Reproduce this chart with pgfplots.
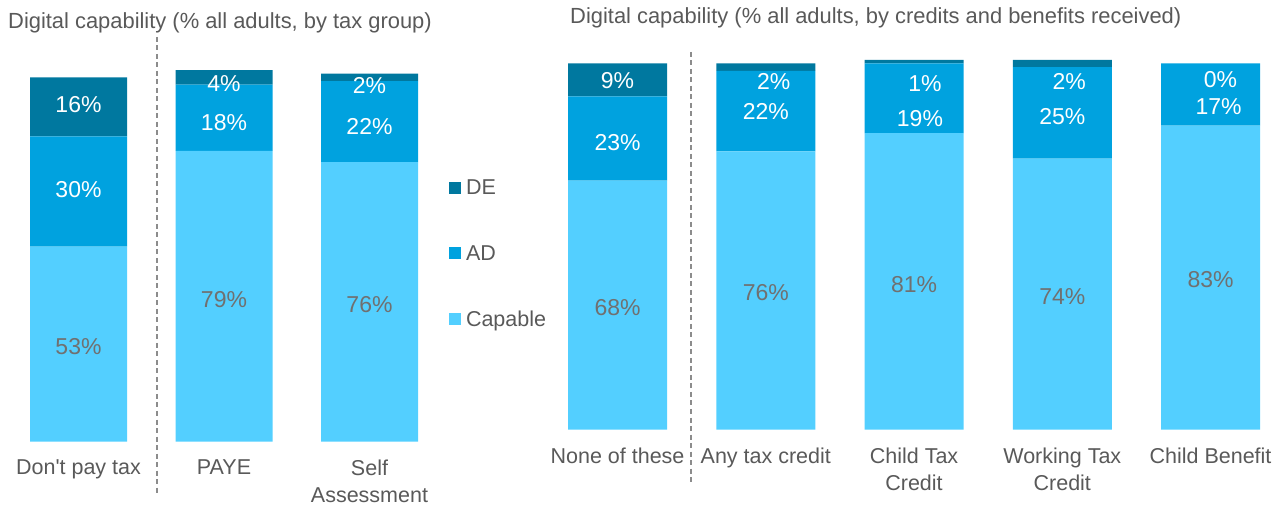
\documentclass[border=0pt]{standalone}
\usepackage{fontspec}
\setmainfont{Liberation Sans}
\usepackage{pgfplots}
\pgfplotsset{compat=1.18}

\definecolor{capable}{HTML}{53CFFF}
\definecolor{ad}{HTML}{00A2DF}
\definecolor{de}{HTML}{00789F}
\definecolor{txt}{HTML}{595959}
\definecolor{lbl}{HTML}{707070}

\newcommand\bigfont{\fontsize{21.5}{27.5}\selectfont}
\newcommand\ttlfont{\fontsize{21.9}{26}\selectfont}
\newcommand\pctfont{\fontsize{23}{27}\selectfont}

% positions in pt = pixels of the reference
\pgfplotsset{
  frame/.style={scale only axis, clip=false, anchor=south west,
    ymin=0, ymax=100, enlarge x limits=false},
  panel/.style={frame, ybar stacked,
    axis line style={draw=none}, tick style={draw=none},
    ytick=\empty, axis x line*=bottom,
    xticklabel style={font=\bigfont, text=txt, align=center,
      anchor=north, inner sep=0pt, yshift=-18pt},
  },
  labels/.style={frame, hide axis},
  cap/.style={fill=capable, draw=none},
  adst/.style={fill=ad, draw=none},
  dest/.style={fill=de, draw=none},
  pct/.style={only marks, mark=none, point meta=explicit symbolic,
    nodes near coords, nodes near coords style={anchor=center,
      font=\pctfont, text=#1, inner sep=0pt}},
}

\begin{document}
\begin{tikzpicture}
\useasboundingbox (0,0) rectangle (1284pt,506pt);

% titles
\node[anchor=base west, font=\ttlfont, text=txt, inner sep=0pt] at (8pt,477pt)
  {Digital capability (\% all adults, by tax group)};
\node[anchor=base west, font=\ttlfont, text=txt, inner sep=0pt] at (570pt,482.5pt)
  {Digital capability (\% all adults, by credits and benefits received)};

% separators
\draw[dash pattern=on 5pt off 3.5pt, line width=1.3pt, color=black!45] (157pt,469pt) -- (157pt,12pt);
\draw[dash pattern=on 5pt off 3.5pt, line width=1.3pt, color=black!45] (691pt,454pt) -- (691pt,23pt);

% left panel: by tax group
\begin{axis}[panel,
  at={(5.75pt,64.3pt)}, width=436.5pt, height=368pt,
  xmin=-0.5, xmax=2.5, bar width=97pt,
  xtick={0,1,2},
  xticklabels={Don\textquotesingle t pay tax, PAYE, {Self\\Assessment}},
  reverse legend,
  legend style={draw=none, fill=none, inner sep=0pt, outer sep=0pt,
    at={(1.0155,0.7112)}, anchor=north west,
    font=\bigfont, text=txt, row sep=49pt, column sep=5pt,
    nodes={inner sep=0pt}},
  legend cell align=left,
  legend image code/.code={\fill[#1] (0pt,-6pt) rectangle (12pt,6pt);},
]
\addplot[cap] coordinates {(0,53) (1,79) (2,76)};
\addplot[adst] coordinates {(0,30) (1,18) (2,22)};
\addplot[dest] coordinates {(0,16) (1,4) (2,2)};
\legend{Capable,AD,DE}
\end{axis}
\begin{axis}[labels,
  at={(5.75pt,64.3pt)}, width=436.5pt, height=368pt,
  xmin=-0.5, xmax=2.5]
\addplot[pct=lbl] coordinates {(0,25.8)[53\%] (1,38.6)[79\%] (2,37.2)[76\%]};
\addplot[pct=white] coordinates {(0,68.5)[30\%] (1,86.8)[18\%] (2,85.7)[22\%]
  (0,91.6)[16\%] (1,97.2)[4\%] (2,96.9)[2\%]};
\end{axis}

% right panel: by credits and benefits received
\begin{axis}[panel,
  at={(543.4pt,76.5pt)}, width=741.25pt, height=366pt,
  xmin=-0.5, xmax=4.5, bar width=99pt,
  xtick={0,1,2,3,4},
  xticklabels={None of these, Any tax credit, {Child Tax\\Credit},
    {Working Tax\\Credit}, Child Benefit},
]
\addplot[cap] coordinates {(0,68) (1,76) (2,81) (3,74) (4,83)};
\addplot[adst] coordinates {(0,23) (1,22) (2,19) (3,25) (4,17)};
\addplot[dest] coordinates {(0,9) (1,2) (2,1) (3,2) (4,0)};
\end{axis}
\begin{axis}[labels,
  at={(543.4pt,76.5pt)}, width=741.25pt, height=366pt,
  xmin=-0.5, xmax=4.5]
\addplot[pct=lbl] coordinates {(0,33.2)[68\%] (1,37.3)[76\%] (2,39.5)[81\%]
  (3,36.2)[74\%] (4,40.9)[83\%]};
\addplot[pct=white] coordinates {(0,78.5)[23\%] (1,87)[22\%] (2.04,85)[19\%]
  (3,85.6)[25\%] (4.054,88.3)[17\%]
  (0,95.2)[9\%] (1.054,95.2)[2\%] (2.074,94.5)[1\%] (3.047,95.2)[2\%] (4.067,95.6)[0\%]};
\end{axis}
\end{tikzpicture}
\end{document}
